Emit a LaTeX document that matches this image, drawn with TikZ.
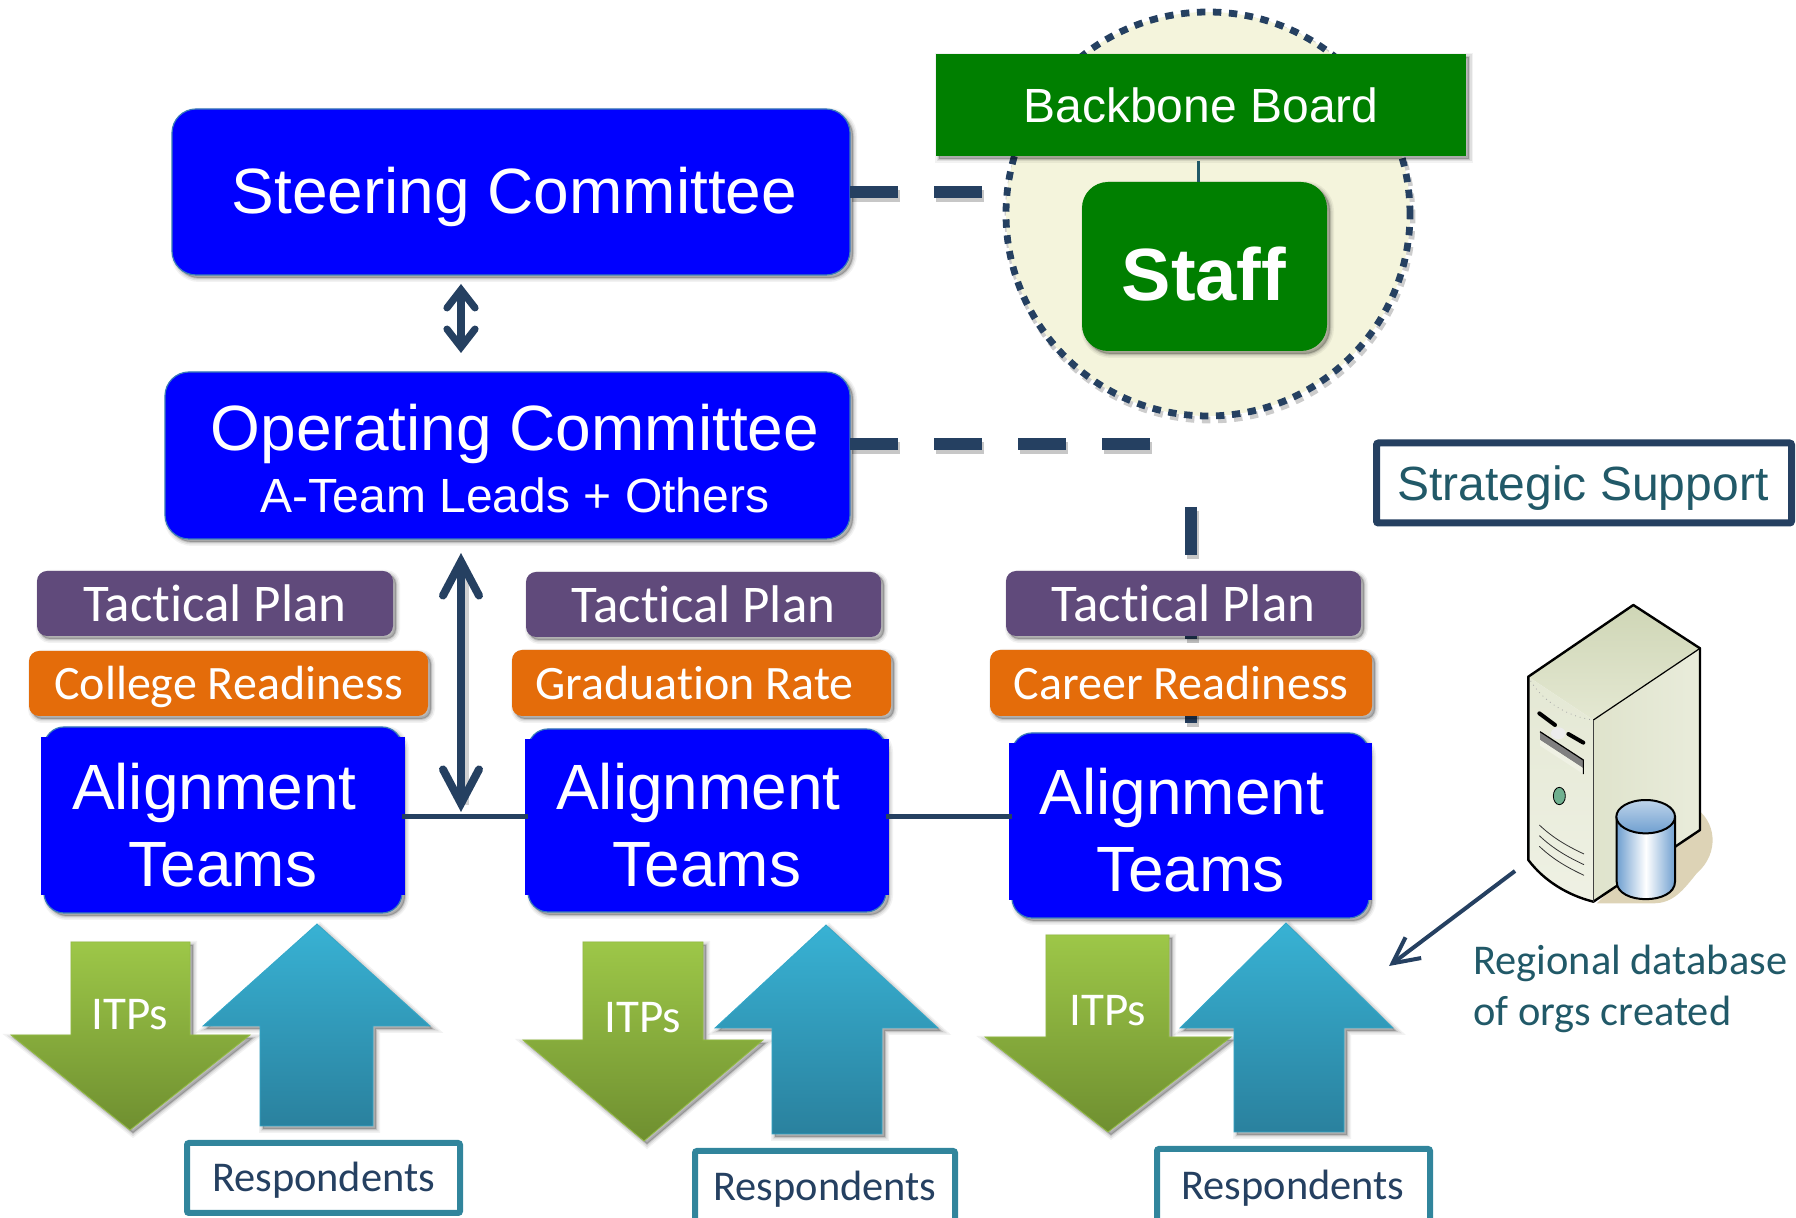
\documentclass[tikz,border=0pt]{standalone}
\usepackage{fontspec}
\setmainfont{Liberation Sans}
\newfontfamily\calib[Ligatures=NoCommon]{Carlito}
\usetikzlibrary{shadows,arrows.meta,calc}
\definecolor{tblue}{HTML}{0000FF}
\definecolor{tedge}{HTML}{3B7DB8}
\definecolor{tgreen}{HTML}{007F00}
\definecolor{tpurple}{HTML}{604A7B}
\definecolor{torange}{HTML}{E46C0A}
\definecolor{tnavy}{HTML}{254061}
\definecolor{tteal}{HTML}{215968}
\definecolor{tbox}{HTML}{31859C}
\definecolor{tcream}{HTML}{F4F4DC}
\definecolor{gtop}{HTML}{9DC748}
\definecolor{gbot}{HTML}{6F8F30}
\definecolor{btop}{HTML}{38B2D4}
\definecolor{bbot}{HTML}{2A819E}
\definecolor{svtan}{HTML}{DDD3B6}
\definecolor{svtopa}{HTML}{CFD6B6}
\definecolor{svtopb}{HTML}{E4E8D2}
\definecolor{svra}{HTML}{DFE3CC}
\definecolor{svrb}{HTML}{E9ECDB}
\definecolor{svfa}{HTML}{E4E8D4}
\definecolor{svfb}{HTML}{EFF1E4}
\definecolor{svbtn}{HTML}{6FB08F}
\definecolor{svdb}{HTML}{6F9FD0}
\tikzset{
  softshadow/.style={
    general shadow={fill=black,draw=black,opacity=.05,line width=4pt,shadow xshift=1.5pt,shadow yshift=-1.5pt},
    general shadow={fill=black,draw=black,opacity=.08,line width=2.5pt,shadow xshift=1.5pt,shadow yshift=-1.5pt},
    general shadow={fill=black,draw=black,opacity=.12,line width=1pt,shadow xshift=1.5pt,shadow yshift=-1.5pt}},
  basebox/.style={inner sep=0pt,outer sep=0pt,align=center,text=white},
  bluebox/.style={basebox,rectangle,rounded corners=12pt,fill=tblue,draw=tedge,line width=.6pt,softshadow},
  abox/.style={basebox,rectangle,rounded corners=10pt,fill=tblue,draw=tedge,line width=.6pt,softshadow},
  greenrect/.style={basebox,rectangle,fill=tgreen,softshadow,font=\fontsize{24}{28}\selectfont},
  staffbox/.style={basebox,rectangle,rounded corners=13pt,fill=tgreen,softshadow,font=\fontsize{37}{42}\selectfont\bfseries},
  planbox/.style={basebox,rectangle,rounded corners=5pt,fill=tpurple,softshadow,font=\calib\fontsize{26.5}{30}\selectfont},
  goalbox/.style={basebox,rectangle,rounded corners=5pt,fill=torange,softshadow,font=\calib\fontsize{24}{28}\selectfont},
  respbox/.style={basebox,rectangle,rounded corners=1pt,draw=tbox,line width=3pt,fill=white,text=tnavy,font=\calib\fontsize{21.2}{25}\selectfont},
  supportbox/.style={basebox,rectangle,rounded corners=1pt,draw=tnavy,line width=3.5pt,fill=white,text=tteal,font=\fontsize{24}{28}\selectfont},
  atext/.style={inner sep=0pt,align=center,text=white,font=\fontsize{32}{38.4}\selectfont},
  itptext/.style={inner sep=0pt,text=white,font=\calib\fontsize{23.5}{27}\selectfont},
  dashline/.style={draw=tnavy,line width=6pt,dash pattern=on 24pt off 18pt,
    preaction={draw=black,draw opacity=.22,line width=6pt,dash pattern=on 24pt off 18pt,transform canvas={shift={(1.2pt,-1.8pt)}}}},
  linkline/.style={draw=tnavy,line width=2.5pt},
  grarrow/.style={top color=gtop,bottom color=gbot,draw=gtop!80!gbot,line width=.4pt,softshadow},
  blarrow/.style={top color=btop,bottom color=bbot,draw=btop!80!bbot,line width=.4pt,softshadow},
}
% #1 style, #2 name, #3..#6 box, #7 text
\newcommand\bx[7]{\node[#1,minimum width={(#5-#3)*0.5pt},minimum height={(#6-#4)*0.5pt}] (#2) at ({(#3+#5)/2},{(#4+#6)/2}) {#7};}
% shift a single line of box text by dx, dy (down)
\newcommand\tdn[3]{\raisebox{0pt}[\dimexpr\height+2\dimexpr#2\relax\relax][\depth]{\hspace*{\dimexpr2\dimexpr#1\relax\relax}#3}}
% alignment team: name x1 y1 x2 y2 notchtop notchbottom
\newcommand\ateam[7]{%
  \pgfmathsetmacro\axa{#2+3}\pgfmathsetmacro\axb{#4-3}%
  \bx{abox}{#1}{\axa}{#3}{\axb}{#5}{}
  \fill[tblue] (#2,#6) rectangle (#4,#7);
  \node[atext] (#1t) at ({(#2+#4)/2},{(#3+#5)/2+5}) {Alignment\hspace*{8.6pt}\\Teams};}
% arrow polygon: shaftL shaftR end shoulder headL headR tipx tipy
\newcommand\grn[8]{\path[grarrow] (#1,#3) -- (#2,#3) -- (#2,#4) -- (#6,#4) -- (#7,#8) -- (#5,#4) -- (#1,#4) -- cycle;}
\newcommand\blu[8]{\path[blarrow] (#1,#3) -- (#2,#3) -- (#2,#4) -- (#6,#4) -- (#7,#8) -- (#5,#4) -- (#1,#4) -- cycle;}
\begin{document}
\begin{tikzpicture}[x=.5pt,y=-.5pt]
\useasboundingbox (0,0) rectangle (1796,1218);
% backbone circle
\node[circle,inner sep=0pt,minimum size=202pt,fill=tcream,draw=tnavy,line width=3.4pt,dash pattern=on 4.2pt off 3.8pt,
  general shadow={draw=black,fill=none,opacity=.2,line width=3.4pt,dash pattern=on 4.2pt off 3.8pt,shadow xshift=1pt,shadow yshift=-2pt}] (hub) at (1208,214) {};
\coordinate (d1) at (983,192);
\coordinate (d2) at (1151,444);
\coordinate (v1) at (1191,507);
\coordinate (ax) at (461,0);
\coordinate (lny) at (0,817);
\coordinate (st) at (1198,161);
% committees
\bx{bluebox,font=\fontsize{32}{38}\selectfont}{steer}{172}{109}{850}{275}{\tdn{1.7pt}{2.3pt}{Steering Committee}}
\bx{bluebox}{oper}{165}{372}{850}{539}{}
\node[inner sep=0pt,align=center,text=white] (opert) at ($(oper)+(7.5,3.5)$) {\fontsize{32}{38}\selectfont Operating Committee\\[6pt]\fontsize{24}{28}\selectfont A-Team Leads + Others};
% board and staff
\bx{greenrect}{board}{936}{54}{1466}{156}{Backbone Board}
\bx{staffbox}{staff}{1082}{182}{1327}{351}{\tdn{-.3pt}{4pt}{Staff}}
\draw[line width=1.5pt,draw=tteal] (st) -- (st |- staff.north);
% dashed links
\draw[dashline] (steer.east) -- (d1);
\draw[dashline] (oper.east |- d2) -- (d2);
\coordinate (v2) at (1191,733);
\draw[dashline] (v1) -- (v2);
\bx{supportbox}{support}{1376.5}{443}{1791.5}{523}{\tdn{-.5pt}{2.3pt}{Strategic Support}}
% alignment teams
\ateam{at1}{41}{727}{405}{913}{737}{895}
\ateam{at2}{525}{729}{889}{912}{739}{895}
\ateam{at3}{1009}{733}{1372}{918}{743}{900}
\draw[linkline] (at1.east |- lny) -- (at2.west |- lny);
\draw[linkline] (at2.east |- lny) -- (at3.west |- lny);
% arrows between committees
\draw[draw=tnavy,line width=3.6pt,{Straight Barb[length=9pt,width=14pt,line cap=round]}-{Straight Barb[length=9pt,width=14pt,line cap=round]},shorten <=4.5pt,shorten >=9.5pt] (steer.south -| ax) -- (oper.north -| ax);
\coordinate (lowend) at (461,812);
\draw[draw=black,draw opacity=.18,line width=4pt,shorten <=14pt,shorten >=4pt,transform canvas={shift={(2pt,-.5pt)}}] (oper.south -| ax) -- (lowend);
\draw[draw=tnavy,line width=4pt,{Straight Barb[length=17pt,width=18pt,line cap=round]}-{Straight Barb[length=17pt,width=18pt,line cap=round]},shorten <=7pt] (oper.south -| ax) -- (lowend);
% plans and goals
\bx{planbox}{tp1}{37}{571}{393}{636}{Tactical Plan}
\bx{planbox}{tp2}{526}{572}{881}{637}{Tactical Plan}
\bx{planbox}{tp3}{1006}{571}{1361}{636}{Tactical Plan}
\bx{goalbox}{cr1}{29}{651}{428}{716}{\tdn{0pt}{1.7pt}{College Readiness}}
\bx{goalbox}{cr2}{512}{650}{891}{716}{\tdn{-3.5pt}{0pt}{Graduation Rate}}
\bx{goalbox}{cr3}{990}{650}{1372}{716}{Career Readiness}
% ITP arrows
\grn{71}{190}{942}{1035}{11}{250}{130}{1130}
\grn{583}{703}{942}{1040}{523}{763}{644}{1141}
\grn{1046}{1169}{935}{1037}{985}{1231}{1108}{1132}
\node[itptext] (itp1) at (130,1015) {ITPs};
\node[itptext] (itp2) at (643,1018) {ITPs};
\node[itptext] (itp3) at (1108,1011) {ITPs};
% respondent arrows
\blu{260}{373}{1126}{1026}{203}{430}{317}{924}
\blu{772}{882}{1134}{1028}{715}{938}{826}{925}
\blu{1234}{1344}{1132}{1028}{1180}{1393}{1286}{923}
\bx{respbox}{r1}{187}{1143}{460}{1213}{\tdn{0pt}{1.2pt}{Respondents}}
\bx{respbox}{r2}{695}{1151}{955}{1222}{\tdn{0pt}{1.2pt}{Respondents}}
\bx{respbox}{r3}{1157}{1149}{1430}{1222}{\tdn{-.3pt}{1.2pt}{Respondents}}
% server icon
\begin{scope}[shift={(1400,580)},x=.16667pt,y=-.16667pt,line join=round]
  \fill[svtan] (880,680) .. controls (950,720) and (960,820) .. (890,880) .. controls (850,930) and (820,970) .. (760,970) -- (590,970) -- cycle;
  \path[top color=svtopa,bottom color=svtopb] (385,290) -- (700,75) -- (900,205) -- (580,420) -- cycle;
  \path[left color=svra,right color=svrb] (580,420) -- (900,205) -- (900,750) -- (580,965) -- cycle;
  \path[top color=svfa,bottom color=svfb] (385,290) -- (580,420) -- (580,965) .. controls (500,945) and (430,900) .. (385,840) -- cycle;
  \draw[gray!70,dotted,line width=.4pt] (385,290) .. controls (420,360) and (500,410) .. (580,420);
  \draw[line width=1.2pt] (385,290) -- (700,75) -- (900,205) -- (900,750) -- (580,965) .. controls (500,945) and (430,900) .. (385,840) -- cycle;
  \draw[line width=.6pt] (580,420) -- (900,205);
  \draw[line width=.5pt,gray!50!black] (580,420) -- (580,965);
  \draw[line width=2pt,line cap=round] (418,400) -- (465,435);
  \draw[line width=2pt,line cap=round] (505,462) -- (550,488);
  \fill[white!85!gray] (475,460) ellipse (22 and 18);
  \fill[black!50] (420,455) -- (550,540) -- (550,565) -- (420,480) -- cycle;
  \fill[svfb] (420,480) -- (550,565) -- (550,582) -- (420,497) -- cycle;
  \draw[line width=.6pt] (420,455) -- (550,540) -- (550,582);
  \draw[line width=.4pt,fill=svbtn] (478,648) ellipse (18 and 26);
  \foreach \d in {0,32,64}{\draw[line width=.4pt,gray!40!black] (418,{735+\d}) .. controls (460,{775+\d}) and (505,{800+\d}) .. (552,{822+\d});}
  % database
  \path[left color=svdb,right color=svdb,middle color=white] (650,710) -- (825,710) -- (825,905) .. controls (825,975) and (650,975) .. (650,905) -- cycle;
  \draw[line width=1pt] (650,710) -- (650,905) .. controls (650,975) and (825,975) .. (825,905) -- (825,710);
  \draw[line width=1pt,top color=svdb!45!white,bottom color=svdb] (737,710) ellipse (88 and 50);
\end{scope}
\coordinate (thinfrom) at (1515,871);
\coordinate (thinto) at (1389,966);
\draw[draw=tnavy,line width=2pt,-{Straight Barb[length=13pt,width=13pt]}] (thinfrom) -- (thinto);
\node[inner sep=0pt,anchor=west,align=left,text=tteal,font=\calib\fontsize{21.2}{25.2}\selectfont] (dbt) at (1473,989) {Regional database\\of orgs created};
\end{tikzpicture}
\end{document}
